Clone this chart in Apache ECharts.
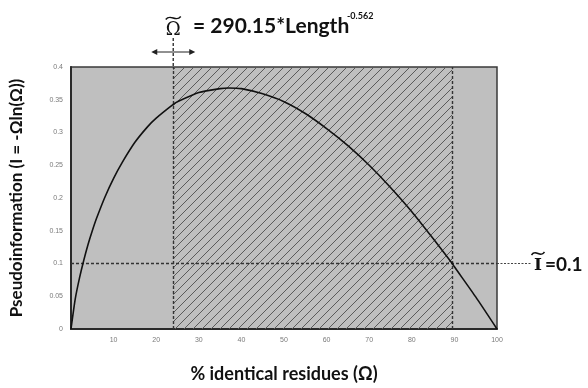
<!DOCTYPE html>
<html>
<head>
<meta charset="utf-8">
<script src="https://cdn.jsdelivr.net/npm/echarts@6/dist/echarts.min.js"></script>
<style>
  html, body { margin: 0; padding: 0; background: #fff; }
  #chart { width: 588px; height: 388px; }
</style>
</head>
<body>
<div id="chart"></div>
<script>
// values
const xValues = [0, 1, 2, 3, 4, 5, 6, 8, 10, 12, 15, 18, 20, 24, 25, 30, 35, 37, 40, 45, 50, 55, 60, 65, 70, 75, 80, 85, 89.5, 90, 95, 100];
const yValues = [0, 0.046, 0.078, 0.105, 0.129, 0.150, 0.169, 0.202, 0.230, 0.254, 0.285, 0.309, 0.322, 0.343, 0.347, 0.361, 0.367, 0.368, 0.367, 0.359, 0.347, 0.329, 0.306, 0.280, 0.250, 0.216, 0.179, 0.138, 0.100, 0.095, 0.049, 0];
const omegaCut = 24;      // x of the Omega~ line
const upperCut = 89.5;    // x where curve meets I~
const infoCut = 0.1;      // I~ level
const yTicks = ['0', '0.05', '0.1', '0.15', '0.2', '0.25', '0.3', '0.35', '0.4'];

const chart = echarts.init(document.getElementById('chart'));

// diagonal hatch tile
const tile = document.createElement('canvas');
tile.width = 9; tile.height = 9;
const g = tile.getContext('2d');
g.strokeStyle = '#5a5a5a';
g.lineWidth = 1;
g.beginPath();
g.moveTo(-1, 10); g.lineTo(10, -1);
g.moveTo(-1, 1); g.lineTo(1, -1);
g.moveTo(8, 10); g.lineTo(10, 8);
g.stroke();

const boldFont = 'Lato';

chart.setOption({
  animation: false,
  grid: {
    left: 71, right: 91, top: 67, bottom: 52,
    show: true,
    backgroundColor: '#bfbfbf',
    borderColor: '#3a3a3a',
    borderWidth: 1.5
  },
  xAxis: {
    type: 'value',
    min: 0, max: 100, interval: 10,
    name: '% identical residues (Ω)',
    nameLocation: 'middle',
    nameGap: 36,
    nameTextStyle: { fontFamily: boldFont, fontWeight: 'bold', fontSize: 18, color: '#111' },
    axisLine: { lineStyle: { color: '#2a2a2a', width: 2 } },
    axisTick: { show: false },
    splitLine: { show: false },
    axisLabel: {
      fontSize: 7, color: '#7a7a7a', margin: 8,
      formatter: v => v === 0 ? '' : String(v)
    }
  },
  yAxis: {
    type: 'value',
    min: 0, max: 0.4, interval: 0.05,
    name: 'Pseudoinformation (I = -Ωln(Ω))',
    nameLocation: 'middle',
    nameGap: 46,
    nameRotate: 90,
    nameTextStyle: { fontFamily: boldFont, fontWeight: 'bold', fontSize: 17, color: '#111' },
    axisLine: { show: true, lineStyle: { color: '#2a2a2a', width: 2 } },
    axisTick: { show: false },
    splitLine: { show: false },
    axisLabel: {
      fontSize: 7, color: '#7a7a7a', margin: 8,
      formatter: (v, i) => yTicks[i]
    }
  },
  series: [{
    type: 'line',
    data: xValues.map((x, i) => [x, yValues[i]]),
    showSymbol: false,
    smooth: 0.2,
    lineStyle: { color: '#111', width: 1.6 },
    z: 5,
    markArea: {
      silent: true,
      itemStyle: { color: { image: tile, repeat: 'repeat' } },
      data: [[{ xAxis: omegaCut }, { xAxis: upperCut }]]
    },
    markLine: {
      silent: true,
      symbol: 'none',
      label: { show: false },
      lineStyle: { color: '#333', width: 1.4, type: [3, 2] },
      data: [
        { xAxis: omegaCut },
        { xAxis: upperCut },
        { yAxis: infoCut }
      ]
    }
  }]
});

// annotations outside the plot
const pTop = chart.convertToPixel({ gridIndex: 0 }, [omegaCut, 0.4]);
const pInfo = chart.convertToPixel({ gridIndex: 0 }, [100, infoCut]);
const ox = pTop[0];
const ay = 52;
const iy = pInfo[1];

function tilde(cx, cy, w) {
  return {
    type: 'bezierCurve',
    shape: { x1: cx - w / 2, y1: cy + 1.5, x2: cx + w / 2, y2: cy - 1.5,
             cpx1: cx - w / 6, cpy1: cy - 5, cpx2: cx + w / 6, cpy2: cy + 5 },
    style: { stroke: '#111', lineWidth: 1.5, fill: null }
  };
}

chart.setOption({
  graphic: [
    { type: 'line', shape: { x1: ox, y1: 38, x2: ox, y2: pTop[1] },
      style: { stroke: '#333', lineWidth: 1.4, lineDash: [3, 2] } },
    { type: 'line', shape: { x1: ox - 20, y1: ay, x2: ox + 20, y2: ay },
      style: { stroke: '#222', lineWidth: 1 } },
    { type: 'polygon', shape: { points: [[ox - 22, ay], [ox - 16, ay - 3], [ox - 16, ay + 3]] },
      style: { fill: '#222' } },
    { type: 'polygon', shape: { points: [[ox + 22, ay], [ox + 16, ay - 3], [ox + 16, ay + 3]] },
      style: { fill: '#222' } },
    { type: 'text', x: ox, y: 30, style: { text: 'Ω', font: '18px "DejaVu Serif"', fill: '#111', align: 'center', verticalAlign: 'middle' } },
    tilde(ox, 18, 15),
    { type: 'text', x: 193, y: 26, style: { text: '= 290.15*Length', font: 'bold 21px Lato', fill: '#111', align: 'left', verticalAlign: 'middle' } },
    { type: 'text', x: 347, y: 16, style: { text: '-0.562', font: 'bold 9px Lato', fill: '#111', align: 'left', verticalAlign: 'middle' } },
    { type: 'line', shape: { x1: pInfo[0], y1: iy, x2: 531, y2: iy },
      style: { stroke: '#444', lineWidth: 1.2, lineDash: [2, 1.5] } },
    { type: 'text', x: 538, y: iy + 2, style: { text: 'I', font: 'bold 17px "DejaVu Serif"', fill: '#111', align: 'center', verticalAlign: 'middle' } },
    tilde(538, iy - 10, 13),
    { type: 'text', x: 545, y: iy + 1, style: { text: '=0.1', font: 'bold 19px Lato', fill: '#111', align: 'left', verticalAlign: 'middle' } }
  ]
});
</script>
</body>
</html>
